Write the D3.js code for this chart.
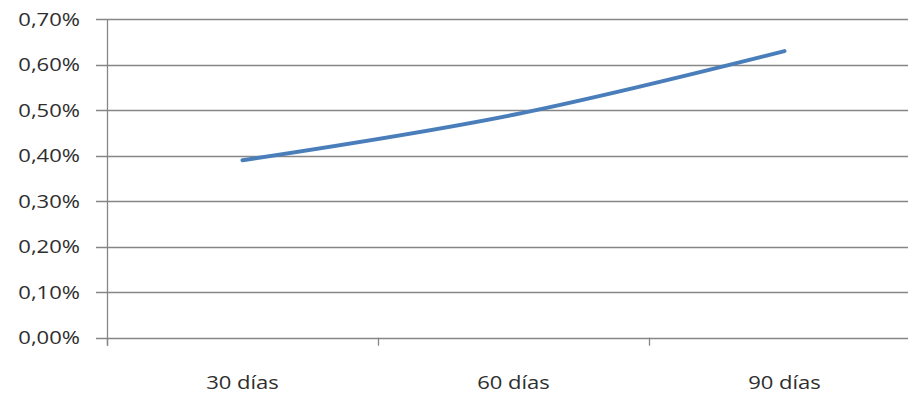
<!DOCTYPE html>
<html>
<head>
<meta charset="utf-8">
<script src="https://cdn.jsdelivr.net/npm/d3@7"></script>
<style>
  html, body { margin: 0; padding: 0; background: #ffffff; }
  svg { display: block; }
  text { font-family: "Open Sans", "Noto Sans", sans-serif; fill: #2e2e2e; }
</style>
</head>
<body>
<script>
// Categories and series values (percent)
const categories = ["30 días", "60 días", "90 días"];
const values = [0.39, 0.49, 0.63];
const yTicks = [0, 0.1, 0.2, 0.3, 0.4, 0.5, 0.6, 0.7];

const W = 908, H = 395;
const plot = { left: 107, right: 920, top: 19.3, bottom: 337.7 };
const textStretch = 1.26;

const svg = d3.select("body").append("svg")
  .attr("width", W).attr("height", H);

const x = d3.scaleBand()
  .domain(categories)
  .range([plot.left, plot.right])
  .paddingInner(0).paddingOuter(0);

const y = d3.scaleLinear()
  .domain([0, 0.7])
  .range([plot.bottom, plot.top]);

const fmt = v => d3.format(".2f")(v).replace(".", ",") + "%";

// horizontal gridlines
svg.append("g")
  .selectAll("line")
  .data(yTicks)
  .join("line")
  .attr("x1", plot.left - 11)
  .attr("x2", plot.right)
  .attr("y1", d => Math.round(y(d)) + 0.5)
  .attr("y2", d => Math.round(y(d)) + 0.5)
  .attr("stroke", "#868686")
  .attr("stroke-width", 1.3);

// vertical axis line
svg.append("line")
  .attr("x1", plot.left + 0.5).attr("x2", plot.left + 0.5)
  .attr("y1", plot.top).attr("y2", plot.bottom + 8)
  .attr("stroke", "#868686").attr("stroke-width", 1.3);

// category boundary ticks
const bounds = categories.map(c => x(c)).concat([plot.right]);
svg.append("g")
  .selectAll("line")
  .data(bounds)
  .join("line")
  .attr("x1", d => Math.round(d) + 0.5)
  .attr("x2", d => Math.round(d) + 0.5)
  .attr("y1", plot.bottom)
  .attr("y2", plot.bottom + 8)
  .attr("stroke", "#868686").attr("stroke-width", 1.3);

// y tick labels
svg.append("g")
  .selectAll("text")
  .data(yTicks)
  .join("text")
  .attr("transform", d => `translate(80,${y(d) + 2}) scale(${textStretch},1)`)
  .attr("text-anchor", "end")
  .attr("dominant-baseline", "middle")
  .attr("font-size", 17.5)
  .text(fmt);

// category labels
svg.append("g")
  .selectAll("text")
  .data(categories)
  .join("text")
  .attr("transform", d => `translate(${x(d) + x.bandwidth() / 2},389) scale(${textStretch},1)`)
  .attr("text-anchor", "middle")
  .attr("font-size", 17.5)
  .text(d => d);

// series line
const line = d3.line()
  .x((d, i) => x(categories[i]) + x.bandwidth() / 2)
  .y(d => y(d))
  .curve(d3.curveCatmullRom.alpha(0));

svg.append("path")
  .datum(values)
  .attr("d", line)
  .attr("fill", "none")
  .attr("stroke", "#4a7ebb")
  .attr("stroke-width", 4)
  .attr("stroke-linecap", "round");
</script>
</body>
</html>
